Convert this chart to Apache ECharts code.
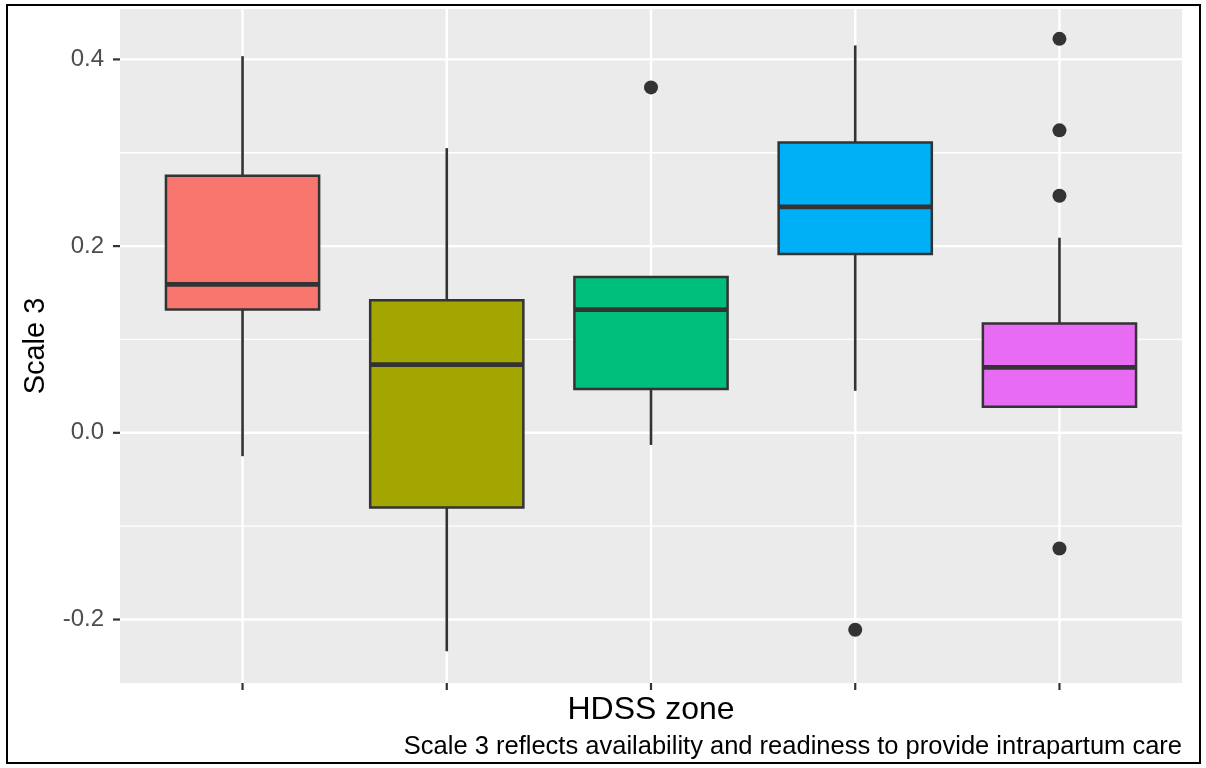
<!DOCTYPE html>
<html>
<head>
<meta charset="utf-8">
<style>
  html, body { margin: 0; padding: 0; background: #ffffff; }
  #chart { width: 1206px; height: 768px; }
</style>
<script src="https://cdn.jsdelivr.net/npm/echarts@6/dist/echarts.min.js"></script>
</head>
<body>
<div id="chart"></div>
<script>
// ---- data ----
var zones = ['1', '2', '3', '4', '5'];
var zonePositions = [1, 2, 3, 4, 5];
var lowerWhisker = [-0.025, -0.234, -0.013, 0.045, 0.028];
var q1Values = [0.132, -0.080, 0.047, 0.1915, 0.028];
var medianValues = [0.159, 0.073, 0.132, 0.242, 0.070];
var q3Values = [0.2755, 0.142, 0.167, 0.311, 0.117];
var upperWhisker = [0.4035, 0.305, 0.167, 0.415, 0.209];
var outlierZone = [3, 4, 5, 5, 5, 5];
var outlierValue = [0.370, -0.211, 0.422, 0.324, 0.254, -0.124];
var fillColors = ['#F8766D', '#A3A500', '#00BF7D', '#00B0F6', '#E76BF3'];
var yMajorTicks = [-0.2, 0.0, 0.2, 0.4];
var yMinorTicks = [-0.1, 0.1, 0.3];
var yTickLabels = ['-0.2', '0.0', '0.2', '0.4'];

var FONT = "'Liberation Sans', Arial, Helvetica, sans-serif";

var boxData = zonePositions.map(function (x, i) {
  return [x, lowerWhisker[i], q1Values[i], medianValues[i], q3Values[i], upperWhisker[i]];
});
var outlierData = outlierZone.map(function (z, i) { return [z, outlierValue[i]]; });

var chart = echarts.init(document.getElementById('chart'));

var option = {
  animation: false,
  backgroundColor: '#ffffff',
  title: [{
    text: 'Scale 3 reflects availability and readiness to provide intrapartum care',
    right: 24,
    top: 734,
    padding: 0,
    textStyle: { fontFamily: FONT, fontSize: 25.5, fontWeight: 'normal', color: '#000000' }
  }],
  graphic: [{
    type: 'rect',
    shape: { x: 7, y: 5, width: 1193, height: 758 },
    style: { fill: 'none', stroke: '#000000', lineWidth: 2 },
    silent: true,
    z: 100
  }],
  grid: {
    left: 120, right: 24, top: 9, bottom: 85,
    show: true, backgroundColor: '#EBEBEB', borderWidth: 0
  },
  xAxis: {
    type: 'value',
    min: 0.4, max: 5.6,
    name: 'HDSS zone',
    nameLocation: 'middle',
    nameGap: 11,
    nameTextStyle: { fontFamily: FONT, fontSize: 32, color: '#000000' },
    axisLine: { show: false, onZero: false },
    splitLine: { show: false },
    axisTick: { show: false },
    axisLabel: { show: false }
  },
  yAxis: {
    type: 'value',
    min: -0.268, max: 0.454,
    name: 'Scale 3',
    nameLocation: 'middle',
    nameGap: 70,
    nameTextStyle: { fontFamily: FONT, fontSize: 29, color: '#000000' },
    axisLine: { show: false, onZero: false },
    splitLine: { show: false },
    axisTick: { show: false },
    axisLabel: {
      show: true, customValues: yMajorTicks, margin: 16,
      fontFamily: FONT, fontSize: 24, color: '#4D4D4D',
      formatter: function (v) {
        var idx = yMajorTicks.indexOf(v);
        return idx >= 0 ? yTickLabels[idx] : v.toFixed(1);
      }
    }
  },
  series: [
    {
      name: 'grid',
      type: 'custom',
      silent: true,
      clip: false,
      z: 1,
      data: [[0]],
      renderItem: function (params, api) {
        var cs = params.coordSys;
        var children = [];
        yMinorTicks.forEach(function (v) {
          var y = api.coord([1, v])[1];
          children.push({ type: 'line', shape: { x1: cs.x, y1: y, x2: cs.x + cs.width, y2: y },
            style: { stroke: '#ffffff', lineWidth: 1.3 } });
        });
        yMajorTicks.forEach(function (v) {
          var y = api.coord([1, v])[1];
          children.push({ type: 'line', shape: { x1: cs.x, y1: y, x2: cs.x + cs.width, y2: y },
            style: { stroke: '#ffffff', lineWidth: 2.4 } });
          children.push({ type: 'line', shape: { x1: cs.x - 7, y1: y, x2: cs.x, y2: y },
            style: { stroke: '#333333', lineWidth: 2.2 } });
        });
        zonePositions.forEach(function (z) {
          var x = api.coord([z, 0])[0];
          children.push({ type: 'line', shape: { x1: x, y1: cs.y, x2: x, y2: cs.y + cs.height },
            style: { stroke: '#ffffff', lineWidth: 2.4 } });
          children.push({ type: 'line', shape: { x1: x, y1: cs.y + cs.height, x2: x, y2: cs.y + cs.height + 7 },
            style: { stroke: '#333333', lineWidth: 2.2 } });
        });
        return { type: 'group', children: children };
      }
    },
    {
      name: 'boxes',
      type: 'custom',
      z: 2,
      data: boxData,
      encode: { x: 0, y: [1, 2, 3, 4, 5] },
      renderItem: function (params, api) {
        var x = api.value(0);
        var lw = api.coord([x, api.value(1)]);
        var q1 = api.coord([x, api.value(2)]);
        var md = api.coord([x, api.value(3)]);
        var q3 = api.coord([x, api.value(4)]);
        var uw = api.coord([x, api.value(5)]);
        var w = api.size([0.75, 0])[0];
        var cx = q1[0];
        var col = fillColors[params.dataIndex];
        var line = '#333333';
        var children = [];
        if (Math.abs(uw[1] - q3[1]) > 0.5) {
          children.push({ type: 'line', shape: { x1: cx, y1: q3[1], x2: cx, y2: uw[1] }, style: { stroke: line, lineWidth: 2.6 } });
        }
        if (Math.abs(lw[1] - q1[1]) > 0.5) {
          children.push({ type: 'line', shape: { x1: cx, y1: q1[1], x2: cx, y2: lw[1] }, style: { stroke: line, lineWidth: 2.6 } });
        }
        children.push({ type: 'rect', shape: { x: cx - w / 2, y: q3[1], width: w, height: q1[1] - q3[1] },
          style: { fill: col, stroke: line, lineWidth: 2.5 } });
        children.push({ type: 'line', shape: { x1: cx - w / 2, y1: md[1], x2: cx + w / 2, y2: md[1] }, style: { stroke: line, lineWidth: 4.8 } });
        return { type: 'group', children: children };
      }
    },
    {
      name: 'outliers',
      type: 'scatter',
      z: 3,
      symbol: 'circle',
      symbolSize: 14,
      itemStyle: { color: '#333333', opacity: 1 },
      data: outlierData
    }
  ]
};
chart.setOption(option);
</script>
</body>
</html>
